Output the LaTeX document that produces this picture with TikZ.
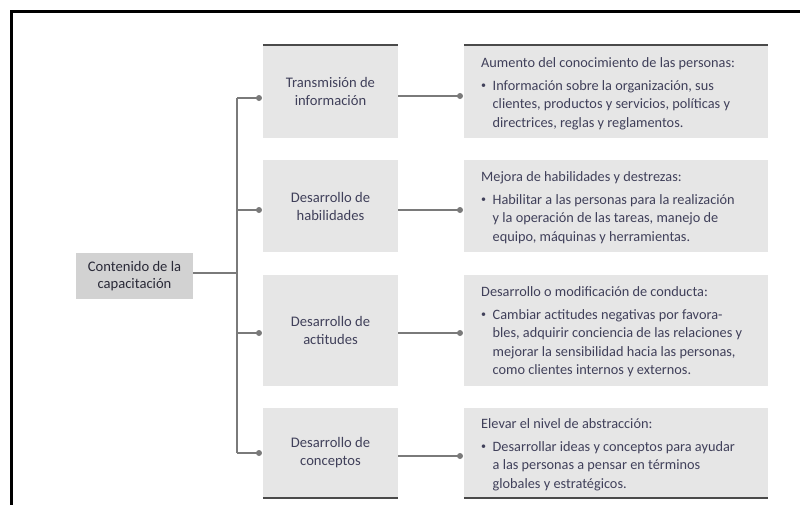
\documentclass[tikz,border=0pt]{standalone}
\usepackage{fontspec}
\setmainfont{Carlito}
\usetikzlibrary{calc}
\definecolor{boxgray}{HTML}{E6E6E6}
\definecolor{rootgray}{HTML}{D2D2D2}
\definecolor{linegray}{HTML}{7A7A7A}
\definecolor{rulegray}{HTML}{4A4A4A}
\definecolor{txt}{HTML}{40405A}
\definecolor{txtdark}{HTML}{2A2A38}
\tikzset{
  catbox/.style={rectangle, fill=boxgray, minimum width=135pt, inner sep=0pt, align=center,
    text=txt, font=\fontsize{14.6}{18}\selectfont},
  descbox/.style={rectangle, fill=boxgray, minimum width=304pt, inner sep=0pt},
  desctext/.style={inner sep=0pt, anchor=base west, text=txt, font=\fontsize{14.3}{18.2}\selectfont},
  rootbox/.style={rectangle, fill=rootgray, minimum width=117pt, minimum height=46pt, inner sep=0pt,
    align=center, text=txtdark, font=\fontsize{14.6}{17}\selectfont},
  conn/.style={draw=linegray, line width=2pt},
  dotnode/.style={circle, fill=linegray, inner sep=0pt, minimum size=6pt},
  rulel/.style={draw=rulegray, line width=2.5pt},
  frame/.style={draw=black, line width=3pt}
}
\newcommand{\bul}{\raisebox{0.35ex}{\fontsize{10}{10}\selectfont\textbullet}}
\newcommand{\desc}[2]{\begin{tabular}[t]{@{}l@{\hspace{6.5pt}}l@{}}\multicolumn{2}{@{}l}{#1}\\[5.5pt]#2\end{tabular}}
\begin{document}
\begin{tikzpicture}[x=1pt,y=-1pt]
\useasboundingbox (0,0) rectangle (800,504);
% frame
\draw[frame] (11,510) -- (11,11) -- (805,11);

% category boxes
\node[catbox, minimum height=93pt] (b1) at (330.5,91.5) {Transmisión de\\información};
\node[catbox, minimum height=92pt] (b2) at (330.5,206) {Desarrollo de\\habilidades};
\node[catbox, minimum height=111pt] (b3) at (330.5,330.5) {Desarrollo de\\actitudes};
\node[catbox, minimum height=90pt] (b4) at (330.5,453) {Desarrollo de\\conceptos};

% description boxes
\node[descbox, minimum height=93pt] (c1) at (616,91.5) {};
\node[descbox, minimum height=92pt] (c2) at (616,206) {};
\node[descbox, minimum height=111pt] (c3) at (616,330.5) {};
\node[descbox, minimum height=90pt] (c4) at (616,453) {};

\node[desctext] (c1t) at (481,67) {\desc{Aumento del conocimiento de las personas:}{\bul & Información sobre la organización, sus\\ & clientes, productos y servicios, políticas y\\ & directrices, reglas y reglamentos.}};
\node[desctext] (c2t) at (481,181) {\desc{Mejora de habilidades y destrezas:}{\bul & Habilitar a las personas para la realización\\ & y la operación de las tareas, manejo de\\ & equipo, máquinas y herramientas.}};
\node[desctext] (c3t) at (481,296) {\desc{Desarrollo o modificación de conducta:}{\bul & Cambiar actitudes negativas por favora-\\ & bles, adquirir conciencia de las relaciones y\\ & mejorar la sensibilidad hacia las personas,\\ & como clientes internos y externos.}};
\node[desctext] (c4t) at (481,428) {\desc{Elevar el nivel de abstracción:}{\bul & Desarrollar ideas y conceptos para ayudar\\ & a las personas a pensar en términos\\ & globales y estratégicos.}};

% top and bottom rules
\draw[rulel] (b1.north west) -- (b1.north east);
\draw[rulel] (c1.north west) -- (c1.north east);
\draw[rulel] (b4.south west) -- (b4.south east);
\draw[rulel] (c4.south west) -- (c4.south east);

% root
\node[rootbox] (root) at (134.5,276) {Contenido de la\\capacitación};

% trunk
\coordinate (t1) at (237,98);
\coordinate (t2) at (237,210);
\coordinate (t3) at (237,333);
\coordinate (t4) at (237,453);
\node[dotnode] (d1) at (259,98) {};
\node[dotnode] (d2) at (259,210) {};
\node[dotnode] (d3) at (259,333) {};
\node[dotnode] (d4) at (259,453) {};
\draw[conn] (root.east |- 0,273) -- (237,273);
\draw[conn] (t1) -- (t4);
\draw[conn] (t1) -- (d1.center);
\draw[conn] (t2) -- (d2.center);
\draw[conn] (t3) -- (d3.center);
\draw[conn] (t4) -- (d4.center);

% second level
\node[dotnode] (e1) at (460,96) {};
\node[dotnode] (e2) at (460,210) {};
\node[dotnode] (e3) at (460,333) {};
\node[dotnode] (e4) at (460,456) {};
\draw[conn] (b1.east |- e1) -- (e1.center);
\draw[conn] (b2.east |- e2) -- (e2.center);
\draw[conn] (b3.east |- e3) -- (e3.center);
\draw[conn] (b4.east |- e4) -- (e4.center);
\end{tikzpicture}
\end{document}
